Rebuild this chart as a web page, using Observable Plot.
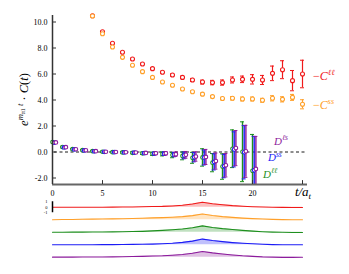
<!DOCTYPE html>
<html><head><meta charset="utf-8">
<script src="https://cdn.jsdelivr.net/npm/d3@7"></script>
<script src="https://cdn.jsdelivr.net/npm/@observablehq/plot@0.6"></script>
<style>body{margin:0;background:#fff}</style>
</head><body><div id="chart"></div>
<script>
// ---- data ----
const tC = [4,5,6,7,8,9,10,11,12,13,14,15,16,17,18,19,20,21,22,23,24,25];
const Cll  = [10.48,9.25,8.36,7.67,7.15,6.77,6.41,6.13,5.92,5.74,5.54,5.38,5.34,5.34,5.54,5.59,5.59,5.54,6.05,6.33,5.49,6.0];
const eCll = [0.03,0.04,0.05,0.05,0.06,0.06,0.07,0.08,0.09,0.1,0.12,0.15,0.17,0.2,0.23,0.25,0.36,0.35,0.56,0.69,0.78,1.06];
const Css  = [10.46,9.1,8.08,7.28,6.67,6.18,5.74,5.38,5.14,4.85,4.64,4.45,4.26,4.11,4.13,4.08,4.08,3.98,4.13,4.05,4.2,3.67];
const eCss = [0.02,0.03,0.03,0.03,0.04,0.04,0.05,0.05,0.06,0.06,0.07,0.08,0.09,0.1,0.13,0.15,0.15,0.15,0.2,0.2,0.23,0.35];

const tD = [0,1,2,3,4,5,6,7,8,9,10,11,12,13,14,15,16,17,18,19,20];
const Dll  = [0.76,0.38,0.22,0.14,0.06,0.02,-0.01,-0.03,-0.06,-0.1,-0.14,-0.15,-0.24,-0.3,-0.45,-0.42,-0.82,-1.12,0.25,0.02,-1.45];
const eDll = [0.08,0.06,0.05,0.05,0.05,0.05,0.05,0.06,0.07,0.09,0.12,0.15,0.2,0.3,0.42,0.67,0.7,0.98,1.45,2.3,2.8];
const Dss  = [0.72,0.35,0.2,0.12,0.05,0.01,-0.01,-0.03,-0.05,-0.09,-0.12,-0.13,-0.2,-0.26,-0.4,-0.42,-0.76,-1.08,0.2,-0.02,-1.4];
const eDss = [0.07,0.05,0.04,0.04,0.04,0.04,0.04,0.05,0.06,0.08,0.1,0.13,0.17,0.26,0.36,0.58,0.62,0.9,1.35,2.05,2.6];
const Dls  = [0.74,0.37,0.21,0.13,0.06,0.02,0.0,-0.02,-0.04,-0.07,-0.1,-0.1,-0.17,-0.22,-0.35,-0.38,-0.7,-1.02,0.3,0.05,-1.3];
const eDls = [0.07,0.05,0.04,0.04,0.04,0.04,0.04,0.05,0.06,0.08,0.1,0.13,0.17,0.26,0.36,0.58,0.62,0.9,1.35,2.0,2.5];

const tR = [0,1,2,3,4,5,6,7,8,9,10,11,12,13,14,15,16,17,18,19,20,21,22,23,24,25];
const Rll = [0,0,0,0,0,0,0.02,0.04,0.05,0.09,0.13,0.16,0.24,0.36,0.58,0.91,0.65,0.45,0.29,0.18,0.09,0.04,0,-0.02,-0.04,-0.04];
const Rss = [0,0.03,0.05,0.08,0.11,0.14,0.16,0.19,0.22,0.27,0.33,0.38,0.45,0.56,0.75,1.04,0.76,0.56,0.42,0.29,0.2,0.13,0.06,0.02,0,0];
const RDll = [0,0,0.01,0.02,0.03,0.05,0.06,0.09,0.12,0.16,0.24,0.33,0.44,0.58,0.82,1.15,0.87,0.65,0.49,0.33,0.2,0.09,0.02,-0.02,-0.04,-0.04];
const RDss = [0,0,0,0,0,0.01,0.02,0.04,0.05,0.07,0.11,0.16,0.25,0.42,0.65,1.02,0.75,0.55,0.38,0.25,0.16,0.08,0.02,0,0,0];
const RDls = [0,0,0.01,0.02,0.03,0.04,0.05,0.08,0.11,0.15,0.2,0.25,0.35,0.49,0.71,1.04,0.78,0.58,0.4,0.25,0.15,0.05,0,-0.04,-0.04,-0.02];

const xTickLabels = [0,5,10,15,20];
const xTicks = [0,5,10,15,20,25];
const yTicks = [-2,0,2,4,6,8,10];
const scaleBarLabels = [1,0,-1];

// ---- styles / layout ----
const RED = "#f01a1a", ORANGE = "#ffa02a", GREEN = "#1e8f1e", BLUE = "#1c1cf5", PURPLE = "#8c1c9c";
const rows = (ts, vs, es) => ts.map((t, i) => ({t, v: vs[i], e: es[i]}));

const cSeries = [
  {rows: rows(tC, Cll, eCll), color: RED, dt: 0},
  {rows: rows(tC, Css, eCss), color: ORANGE, dt: 0}
];
const dSeries = [
  {rows: rows(tD, Dll, eDll), color: GREEN, dt: 0},
  {rows: rows(tD, Dss, eDss), color: BLUE, dt: 0.17},
  {rows: rows(tD, Dls, eDls), color: PURPLE, dt: 0.34}
];
const ribbonBase0 = -4.25, ribbonStep = 0.96, ribbonK = 0.423;
const ribbons = [Rll, Rss, RDll, RDss, RDls].map((w, i) => ({
  color: [RED, ORANGE, GREEN, BLUE, PURPLE][i],
  base: ribbonBase0 - i * ribbonStep,
  rows: tR.map((t, j) => ({t, w: w[j]}))
}));

function errMarks(s, capHalf, sw, r) {
  const X = d => d.t + s.dt;
  return [
    Plot.ruleX(s.rows, {x: X, y1: d => d.v - d.e, y2: d => d.v + d.e, stroke: s.color, strokeWidth: sw, clip: true}),
    Plot.ruleY(s.rows, {y: d => d.v + d.e, x1: d => X(d) - capHalf, x2: d => X(d) + capHalf, stroke: s.color, strokeWidth: 1, clip: true}),
    Plot.ruleY(s.rows, {y: d => d.v - d.e, x1: d => X(d) - capHalf, x2: d => X(d) + capHalf, stroke: s.color, strokeWidth: 1, clip: true}),
    Plot.dot(s.rows, {x: X, y: "v", r, stroke: s.color, fill: "white", strokeWidth: 1.1})
  ];
}

const marks = [];
// ribbons
for (const r of ribbons) {
  marks.push(Plot.areaY(r.rows, {x: "t", y1: () => r.base, y2: d => r.base + d.w * ribbonK, fill: r.color, fillOpacity: 0.28}));
  marks.push(Plot.lineY(r.rows, {x: "t", y: d => r.base + d.w * ribbonK, stroke: r.color, strokeWidth: 1.1}));
}
// scale bar for ribbons
marks.push(Plot.ruleX([0], {y1: ribbonBase0 - ribbonK, y2: ribbonBase0 + ribbonK, stroke: "black", strokeWidth: 1.5}));
marks.push(Plot.text(scaleBarLabels, {x: 0, y: d => ribbonBase0 + d * ribbonK, text: d => String(d), dx: -5, textAnchor: "end", fontSize: 4.5}));
// zero line
marks.push(Plot.ruleY([0], {x1: 0.2, x2: 25.5, stroke: "black", strokeWidth: 0.9, strokeDasharray: "3,2.5"}));
// data
for (const s of cSeries) marks.push(...errMarks(s, 0.2, 1.2, 2));
for (const s of dSeries) marks.push(...errMarks(s, 0.2, 1.4, 1.8));
// axes
marks.push(Plot.ruleX([0], {y1: -2.5, y2: 10.5, stroke: "#333", strokeWidth: 1.5}));
marks.push(Plot.ruleY([-2.5], {x1: 0, x2: 25.5, stroke: "#666", strokeWidth: 2}));
marks.push(Plot.ruleY(yTicks, {y: d => d, x1: 0, x2: 0.4, stroke: "#333", strokeWidth: 1}));
marks.push(Plot.ruleX(xTicks, {x: d => d, y1: -2.5, y2: -2.2, stroke: "#333", strokeWidth: 1}));
marks.push(Plot.axisY({ticks: yTicks, anchor: "left", tickSize: 0, tickPadding: 5, tickFormat: d => d.toFixed(1), label: null, fontSize: 8}));
marks.push(Plot.axisX({ticks: xTickLabels, anchor: "bottom", tickSize: 0, tickPadding: 6, tickFormat: d => String(d), label: null, fontSize: 8}));

const plot = Plot.plot({
  width: 349, height: 274,
  marginLeft: 52, marginRight: 42, marginTop: 15, marginBottom: 90,
  x: {domain: [0, 25.5]},
  y: {domain: [-2.5, 10.5]},
  style: {fontFamily: "'Liberation Serif', 'DejaVu Serif', serif", fontSize: "8px", background: "white"},
  marks
});
document.getElementById("chart").appendChild(plot);

// ---- rich-text labels (super/subscripts) placed through the plot's scales ----
const sx = plot.scale("x"), sy = plot.scale("y");
const FONT = "'Liberation Serif', 'DejaVu Serif', serif";
function rich(x, y, parts, {color = "black", size = 12, anchor = "start", rotate = 0} = {}) {
  const t = d3.select(plot).append("text")
    .attr("x", x).attr("y", y).attr("fill", color).attr("font-family", FONT)
    .attr("font-size", size).attr("text-anchor", anchor);
  if (rotate) t.attr("transform", `rotate(${rotate},${x},${y})`);
  for (const p of parts) {
    const ts = t.append("tspan").text(p.s);
    if (p.i) ts.attr("font-style", "italic");
    if (p.size) ts.attr("font-size", p.size);
    if (p.dy) ts.attr("dy", p.dy);
  }
  return t;
}
// y-axis label
rich(28, sy.apply(4.0), [
  {s: "e", i: true},
  {s: "m", i: true, size: 8.5, dy: -5},
  {s: "π1", size: 6, dy: 2},
  {s: " t", i: true, size: 8.5, dy: -2},
  {s: " · ", dy: 5},
  {s: "C", i: true},
  {s: "("},
  {s: "t", i: true},
  {s: ")"}
], {anchor: "middle", rotate: -90, size: 12.5});
// x-axis label
rich(sx.apply(25.1), sy.apply(-2.5) + 12, [
  {s: "t/a", i: true},
  {s: "t", i: true, size: 9, dy: 3}
], {anchor: "middle", size: 13});
// C labels
const lastC = [Cll[Cll.length - 1], Css[Css.length - 1]];
rich(sx.apply(tC[tC.length - 1]) + 11, sy.apply(lastC[0]) + 6, [
  {s: "−"}, {s: "C", i: true}, {s: "ℓℓ", i: true, size: 8, dy: -5}
], {color: RED, size: 12});
rich(sx.apply(tC[tC.length - 1]) + 11, sy.apply(lastC[1]) + 5, [
  {s: "−"}, {s: "C", i: true}, {s: "ss", i: true, size: 8, dy: -5}
], {color: ORANGE, size: 12});
// D labels
rich(sx.apply(22.2), sy.apply(0.82) + 4, [{s: "D", i: true}, {s: "ℓs", i: true, size: 7.5, dy: -4.5}], {color: PURPLE, size: 11});
rich(sx.apply(21.6), sy.apply(-0.42) + 4.5, [{s: "D", i: true}, {s: "ss", i: true, size: 7.5, dy: -4.5}], {color: BLUE, size: 11});
rich(sx.apply(21.1), sy.apply(-1.68) + 4.5, [{s: "D", i: true}, {s: "ℓℓ", i: true, size: 7.5, dy: -4.5}], {color: GREEN, size: 11});
</script>
</body></html>
